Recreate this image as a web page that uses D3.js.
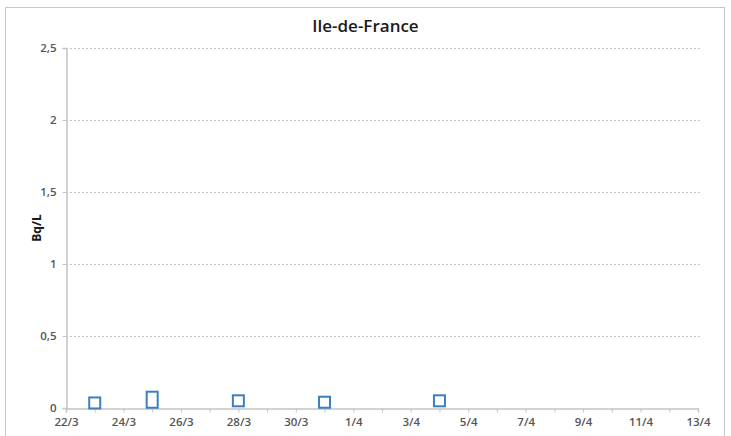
<!DOCTYPE html>
<html>
<head>
<meta charset="utf-8">
<script src="https://cdn.jsdelivr.net/npm/d3@7"></script>
<style>
  body { margin: 0; background: #fff; }
  text { font-family: "Open Sans", "DejaVu Sans", sans-serif; }
</style>
</head>
<body>
<script>
'use strict';

// mesures (Bq/L) par jour de prélèvement
const sampleDates = ['2011-03-23', '2011-03-25', '2011-03-25', '2011-03-28', '2011-03-31', '2011-04-04'];
const sampleValues = [0.035, 0.04, 0.075, 0.05, 0.04, 0.05];
const yTicks = [0, 0.5, 1, 1.5, 2, 2.5];
const xDomain = ['2011-03-22', '2011-04-13'];

const width = 731, height = 436;
const margin = { top: 48, right: 33, bottom: 28, left: 66 };
const parse = d3.timeParse('%Y-%m-%d');

const svg = d3.select('body').append('svg')
  .attr('width', width)
  .attr('height', height);

// cadre du graphique
svg.append('rect')
  .attr('x', 5.5).attr('y', 7.5)
  .attr('width', 719).attr('height', 440)
  .attr('fill', 'none')
  .attr('stroke', '#c8c8c8');

const x = d3.scaleTime()
  .domain(xDomain.map(parse))
  .range([margin.left, width - margin.right]);
const y = d3.scaleLinear()
  .domain([0, 2.5])
  .range([height - margin.bottom, margin.top]);

const fmtNum = d3.format('.1f');
const yLabel = (d) => d === 0 ? '0' : (Number.isInteger(d) ? String(d) : fmtNum(d).replace('.', ','));

// quadrillage
svg.append('g')
  .selectAll('line')
  .data(yTicks.filter((d) => d > 0))
  .join('line')
  .attr('x1', margin.left).attr('x2', width - margin.right + 2)
  .attr('y1', (d) => Math.round(y(d)) + 0.5).attr('y2', (d) => Math.round(y(d)) + 0.5)
  .attr('stroke', '#c4c4c4')
  .attr('stroke-dasharray', '2,2');

const yAxis = svg.append('g')
  .attr('transform', `translate(${margin.left + 0.5},0)`)
  .call(d3.axisLeft(y).tickValues(yTicks).tickFormat(yLabel).tickSize(4).tickPadding(6));

const days = d3.timeDay.range(parse(xDomain[0]), d3.timeDay.offset(parse(xDomain[1]), 1));
const fmtDay = d3.timeFormat('%-d/%-m');
const xAxis = svg.append('g')
  .attr('transform', `translate(0,${y(0) + 0.5})`)
  .call(d3.axisBottom(x).tickValues(days)
    .tickFormat((d, i) => i % 2 === 0 ? fmtDay(d) : '')
    .tickSize(4).tickPadding(5));

for (const ax of [xAxis, yAxis]) {
  ax.select('.domain').attr('stroke', '#c4c4c4').attr('stroke-width', 1.5);
  ax.selectAll('.tick line').attr('stroke', '#c4c4c4');
  ax.selectAll('.tick text').attr('fill', '#555').attr('font-size', 11.5).attr('font-weight', 600);
}

// points : les mesures d'un même jour qui se chevauchent forment un seul marqueur
const samples = sampleDates.map((d, i) => ({ date: parse(d), value: sampleValues[i] }));
const byDay = d3.rollups(samples, (v) => d3.extent(v, (d) => d.value), (d) => +d.date);
svg.append('g')
  .selectAll('rect')
  .data(byDay)
  .join('rect')
  .attr('x', ([t]) => x(new Date(t)) - 5.5)
  .attr('y', ([, e]) => y(e[1]) - 5.5)
  .attr('width', 11)
  .attr('height', ([, e]) => y(e[0]) - y(e[1]) + 11)
  .attr('fill', 'none')
  .attr('stroke', '#3b7fc0')
  .attr('stroke-width', 2);

svg.append('text')
  .attr('x', width / 2).attr('y', 32)
  .attr('text-anchor', 'middle')
  .attr('font-size', 17)
  .attr('font-weight', 600)
  .attr('fill', '#1a1a1a')
  .text('Ile-de-France');

svg.append('text')
  .attr('transform', `translate(41,${(y(0) + y(2.5)) / 2}) rotate(-90)`)
  .attr('text-anchor', 'middle')
  .attr('font-size', 12)
  .attr('font-weight', 'bold')
  .attr('fill', '#1a1a1a')
  .text('Bq/L');
</script>
</body>
</html>
